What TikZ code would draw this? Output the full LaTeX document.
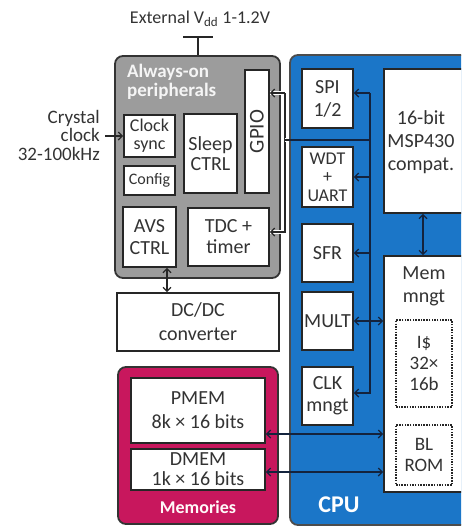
\documentclass[tikz,border=0pt]{standalone}
\usepackage{fontspec}
\setmainfont{Carlito}
\usetikzlibrary{arrows.meta}
\definecolor{gfill}{HTML}{9C9C9C}
\definecolor{cpublue}{HTML}{1B76C8}
\definecolor{memred}{HTML}{C8175D}
\definecolor{txt}{HTML}{333333}
\definecolor{busc}{HTML}{14233D}
\newcommand\myfs[2]{\fontsize{#1}{#2}\selectfont}
\tikzset{
  box/.style={draw=black!85, line width=1.8pt, fill=white, text=txt, align=center, inner sep=0pt, font=\myfs{19}{19}},
  dotbox/.style={draw=black!85, line width=1.8pt, dash pattern=on 1.5pt off 1.2pt, fill=white, text=txt, align=center, inner sep=0pt, font=\myfs{19}{21}},
  group/.style={line width=1.8pt, rounded corners=8pt, inner sep=0pt},
  tip/.style={-{Straight Barb[length=4pt,width=8pt,line width=1.2pt]}},
  tips/.style={{Straight Barb[length=4pt,width=8pt,line width=1.2pt]}-{Straight Barb[length=4pt,width=8pt,line width=1.2pt]}},
  busline/.style={draw=busc, line width=1.4pt},
  halo/.style={draw=white, line width=3.4pt},
  core/.style={draw=black!85, line width=1.1pt},
  plain/.style={text=txt, inner sep=0pt, align=center}
}
\begin{document}
\begin{tikzpicture}[x=1pt,y=-1pt]
\useasboundingbox (0,0) rectangle (461,528);
\begin{scope}
\clip (0,0) rectangle (461,528);
% groups
\node[group, draw=black!80, fill=gfill, minimum width=165pt, minimum height=222pt] (aon) at (197.5,167) {};
\node[group, draw=black!70, fill=cpublue, minimum width=200pt, minimum height=470pt] (cpu) at (390,290) {};
\node[group, draw=black!80, fill=memred, minimum width=160pt, minimum height=157pt] (mem) at (198,445.5) {};
% group labels
\node[anchor=north west, inner sep=0pt, align=left, text=white!92!gray, font=\bfseries\myfs{19}{19}] (aonlbl) at (127,64) {Always-on\\peripherals};
\node[inner sep=0pt, text=white!90!pink, font=\bfseries\myfs{18}{18}] (memlbl) at (198,507) {Memories};
\node[inner sep=0pt, text=white, font=\bfseries\myfs{24}{24}] (cpulbl) at (339,505) {CPU};
% always-on boxes
\node[box, minimum width=24pt, minimum height=123pt] (gpio) at (257,131.5) {};
\node[plain, rotate=90, font=\myfs{21}{21}] (gpiotxt) at (gpio.center) {GPIO};
\node[box, minimum width=51pt, minimum height=42pt, font=\myfs{18}{18}] (clk) at (149.5,136) {Clock\\sync};
\node[box, minimum width=51pt, minimum height=29pt, font=\myfs{16}{16}] (cfg) at (149.5,180.5) {Config};
\node[box, minimum width=53pt, minimum height=79pt, font=\myfs{20}{20}] (sleep) at (210.5,153.5) {Sleep\\CTRL};
\node[box, minimum width=53pt, minimum height=60pt, font=\myfs{20}{22}] (avs) at (149.5,237) {AVS\\CTRL};
\node[box, minimum width=81pt, minimum height=58pt, font=\myfs{20}{21}] (tdc) at (228.5,237) {TDC +\\timer};
\node[box, minimum width=162pt, minimum height=58pt, font=\myfs{20}{24}] (dcdc) at (198,322) {DC/DC\\converter};
% memories
\node[box, minimum width=134pt, minimum height=65pt, font=\myfs{20}{24}] (pmem) at (198,410.5) {PMEM\\8k × 16 bits};
\node[box, minimum width=134pt, minimum height=41pt, font=\myfs{20}{20}] (dmem) at (198,469.5) {DMEM\\1k × 16 bits};
% cpu boxes
\node[box, minimum width=51pt, minimum height=59pt, font=\myfs{20}{23}] (spi) at (327.5,98.5) {SPI\\1/2};
\node[box, minimum width=51pt, minimum height=60pt, font=\myfs{18}{18.5}] (wdt) at (327.5,177) {WDT\\+\\UART};
\node[box, minimum width=51pt, minimum height=58pt, font=\myfs{20}{20}] (sfr) at (327.5,253) {SFR};
\node[box, minimum width=51pt, minimum height=58pt, font=\myfs{20}{20}] (mult) at (327.5,321) {MULT};
\node[box, minimum width=51pt, minimum height=58pt, font=\myfs{20}{22}] (clkm) at (327.5,396) {CLK\\mngt};
\node[box, minimum width=84pt, minimum height=144pt] (core) at (426,141) {};
\node[plain, font=\myfs{20}{23}] (coretxt) at (421,142) {16-bit\\MSP430\\compat.};
\node[box, minimum width=84pt, minimum height=236pt] (memm) at (426,374) {};
\node[plain, font=\myfs{20}{23}] (memmtxt) at (424,286) {Mem\\mngt};
\node[dotbox, minimum width=56pt, minimum height=87pt] (icache) at (424,363.5) {I\$\\32×\\16b};
\node[dotbox, minimum width=56pt, minimum height=60pt] (blrom) at (424,455) {BL\\ROM};
% supply
\node[plain, font=\myfs{18}{18}] (vdd) at (200,19) {External V\textsubscript{\fontsize{13}{13}\selectfont dd} 1-1.2V};
\coordinate (tl) at (183,37);
\coordinate (tr) at (213,37);
\coordinate (tm) at (198,37);
\draw[line width=1.8pt, draw=black!85] (tl) -- (tr);
\draw[line width=1.8pt, draw=black!85] (tm) -- (aon.north -| tm);
% crystal
\node[plain, anchor=east, align=right, font=\myfs{19}{18.5}] (xtal) at (100,135) {Crystal\\clock\\32-100kHz};
\draw[line width=1.4pt, draw=black!85, tip] (xtal.east |- clk.west) ++(5,0) -- (clk.west);
% avs - dcdc
\coordinate (avsx) at (167,0);
\draw[line width=1.4pt, draw=black!85, tips] (avs.south -| avsx) -- (dcdc.north -| avsx);
% always-on bus
\coordinate (gb1) at (285,93);
\coordinate (gb2) at (285,232);
\coordinate (gbm) at (285,140);
\draw[halo] (gpio.east |- gb1) -- (gb1) -- (gb2) -- (tdc.east |- gb2);
\draw[core, tip] (gb1) -- (gpio.east |- gb1);
\draw[core, tip] (gb1) -- (gb2) -- (tdc.east |- gb2);
% cpu bus
\coordinate (cb1) at (370,93);
\coordinate (cb2) at (370,393);
\coordinate (cbm) at (370,140);
\draw[halo] (gbm) -- (cpu.west |- gbm);
\draw[core] (gbm) -- (cpu.west |- gbm);
\draw[busline] (cpu.west |- gbm) -- (cbm);
\draw[busline, tip] (cb1) -- (spi.east |- cb1);
\draw[busline, tip] (cb1) -- (cb2) -- (clkm.east |- cb2);
\draw[busline, tip] (wdt.east -| cb1) -- (wdt.east);
\draw[busline, tip] (sfr.east -| cb1) -- (sfr.east);
\draw[busline, tips] (mult.east) -- (memm.west |- mult.east);
\draw[busline, tips] (core.south -| 423,0) -- (memm.north -| 423,0);
% memory links
\coordinate (pm) at (0,434);
\coordinate (dm) at (0,472);
\draw[busline, tips] (pmem.east |- pm) -- (memm.west |- pm);
\draw[busline, tips] (dmem.east |- dm) -- (memm.west |- dm);
\end{scope}
\end{tikzpicture}
\end{document}
